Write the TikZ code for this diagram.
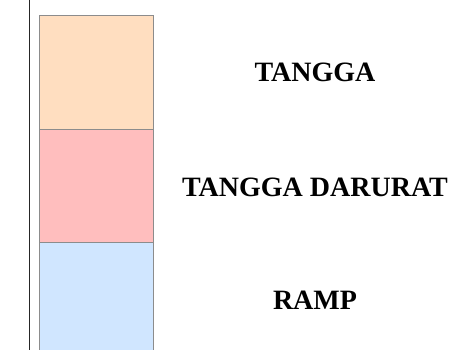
\documentclass[tikz,border=0pt]{standalone}
\usepackage{fontspec}
\setmainfont{Liberation Serif}
\definecolor{peach}{RGB}{255,222,192}
\definecolor{pinkzone}{RGB}{255,190,190}
\definecolor{bluezone}{RGB}{208,230,255}
\begin{document}
\begin{tikzpicture}[x=1pt, y=-1pt,
    zone/.style={draw=black!45, line width=1pt, minimum width=114pt, anchor=north west, inner sep=0pt, outer sep=0pt},
    label/.style={font=\bfseries\fontsize{28}{30}\selectfont}]
    \useasboundingbox (0,0) rectangle (458,350);
    \clip (0,0) rectangle (458,350);

    % Wall line
    \draw[black!85, line width=1.8pt] (29.5,0) -- (29.5,350);

    % Zones
    \node[zone, fill=peach, minimum height=114pt] (tangga) at (39.5,15.5) {};
    \node[zone, fill=pinkzone, minimum height=113pt] (darurat) at (tangga.south west) {};
    \node[zone, fill=bluezone, minimum height=120pt] (ramp) at (darurat.south west) {};

    % Labels
    \node[label] (ltangga) at (315,72) {TANGGA};
    \node[label] (ldarurat) at (315,187) {TANGGA DARURAT};
    \node[label] (lramp) at (315,300) {RAMP};
\end{tikzpicture}
\end{document}
